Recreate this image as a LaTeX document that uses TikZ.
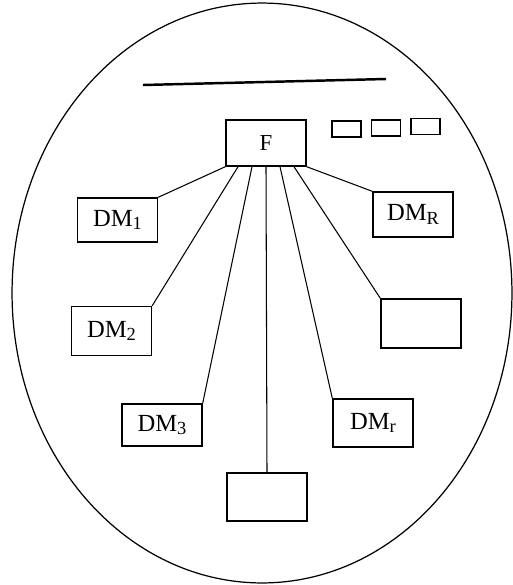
\documentclass[tikz,border=0pt]{standalone}
\usepackage{fontspec}
\setmainfont{Liberation Serif}
\usepackage{tikz}
\usetikzlibrary{positioning}
\newcommand{\dmsub}[1]{\raisebox{-0.3ex}{\fontsize{10.5}{12}\selectfont #1}}
\tikzstyle{dmbox} = [rectangle, draw, line width=0.8pt, minimum width=1.6cm, minimum height=0.92cm, inner sep=0pt, font=\fontsize{14}{16}\selectfont]
\tikzstyle{slot} = [rectangle, draw, line width=0.8pt, minimum width=0.58cm, minimum height=0.32cm, inner sep=0pt]
\tikzstyle{link} = [line width=0.6pt]

\begin{document}
\begin{tikzpicture}[x=0.02cm, y=-0.02cm]
\useasboundingbox (0,0) rectangle (513,585);
% Boundary and header bar
\draw[line width=0.7pt] (262,293) ellipse [x radius=5cm, y radius=5.8cm];
\draw[line width=1.4pt] (143,85) -- (386,79);

% Coordinator and the three spare slots
\node (F) [dmbox, font=\fontsize{13}{15}\selectfont] at (266,143) {F};
\node (s1) [slot] at (346.5,129) {};
\node (s2) [slot] at (386,128) {};
\node (s3) [slot] at (425.5,126.5) {};

% Decision makers
\node (dm1) [dmbox, minimum height=0.88cm] at (117.5,220) {DM\dmsub{1}};
\node (dm2) [dmbox, minimum height=0.98cm] at (111.5,331) {DM\dmsub{2}};
\node (dm3) [dmbox, minimum height=0.84cm] at (162,425) {DM\dmsub{3}};
\node (dmx) [dmbox, minimum height=0.96cm] at (267,497) {};
\node (dmr) [dmbox, minimum height=0.96cm] at (373,423) {DM\dmsub{r}};
\node (dmy) [dmbox, minimum height=0.98cm] at (421,323.5) {};
\node (dmR) [dmbox, minimum height=0.9cm] at (413,214.5) {DM\dmsub{R}};

% Links
\draw[link] (F.south west) -- (dm1.north east);
\draw[link] ([xshift=-0.56cm]F.south) -- (dm2.north east);
\draw[link] ([xshift=-0.28cm]F.south) -- (dm3.north east);
\draw[link] (F.south) -- (dmx.north);
\draw[link] ([xshift=0.28cm]F.south) -- (dmr.north west);
\draw[link] ([xshift=0.56cm]F.south) -- (dmy.north west);
\draw[link] (F.south east) -- (dmR.north west);
\end{tikzpicture}
\end{document}
